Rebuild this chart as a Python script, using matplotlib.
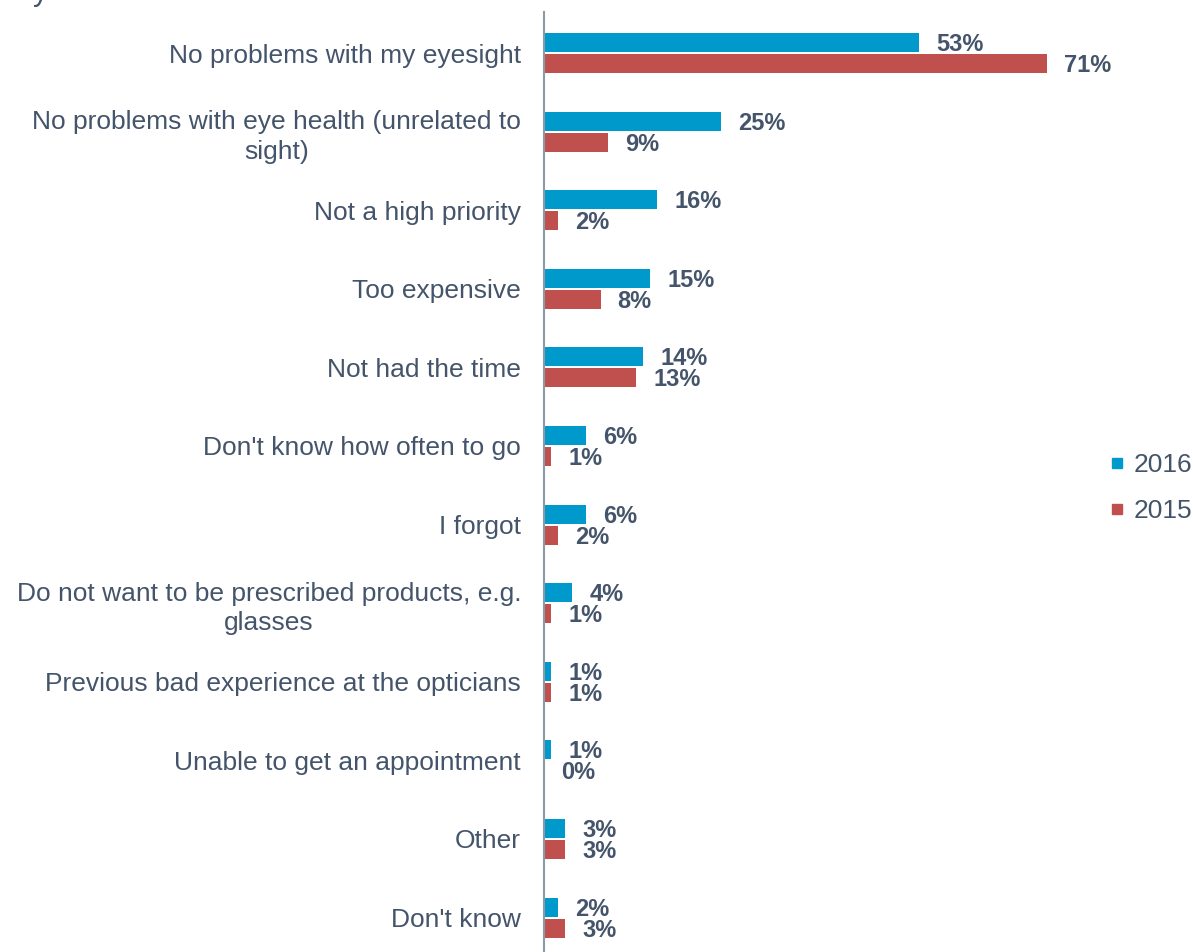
import matplotlib
matplotlib.use("Agg")
import matplotlib.pyplot as plt
from matplotlib.lines import Line2D
import numpy as np

plt.rcParams['font.family'] = ['Liberation Sans', 'DejaVu Sans']

categories = [
    "No problems with my eyesight",
    "No problems with eye health (unrelated to\nsight)",
    "Not a high priority",
    "Too expensive",
    "Not had the time",
    "Don't know how often to go",
    "I forgot",
    "Do not want to be prescribed products, e.g.\nglasses",
    "Previous bad experience at the opticians",
    "Unable to get an appointment",
    "Other",
    "Don't know",
]
values_2016 = [53, 25, 16, 15, 14, 6, 6, 4, 1, 1, 3, 2]
values_2015 = [71, 9, 2, 8, 13, 1, 2, 1, 1, 0, 3, 3]
series_names = ["2016", "2015"]

TEXT = "#44546A"
BLUE = "#0099CC"
RED = "#C0504D"

W, H = 1193, 952
fig = plt.figure(figsize=(W / 100, H / 100), dpi=100)
ax_left, ax_right = 544, 1090
ax_top, ax_bottom = 12, 952
ax = fig.add_axes([ax_left / W, 1 - ax_bottom / H, (ax_right - ax_left) / W, (ax_bottom - ax_top) / H])

px_per_pct = 7.08
row_px = 78.6
first_row_px = 53
ax.set_xlim(0, (ax_right - ax_left) / px_per_pct)
ax.set_ylim((ax_bottom - first_row_px) / row_px, (ax_top - first_row_px) / row_px)

y = np.arange(len(categories))
bh = 19 / row_px
off = 10.5 / row_px
ax.barh(y - off, values_2016, height=bh, color=BLUE, label=series_names[0])
ax.barh(y + off, values_2015, height=bh, color=RED, label=series_names[1])

pad = 17 / px_per_pct
nudge = 2 / row_px
for yi, v in zip(y, values_2016):
    ax.text(v + pad, yi - off + nudge, f"{v}%", ha='left', va='center', fontsize=17,
            fontweight='bold', color=TEXT)
for yi, v in zip(y, values_2015):
    ax.text(v + pad, yi + off + nudge, f"{v}%", ha='left', va='center', fontsize=17,
            fontweight='bold', color=TEXT)

ax.set_yticks(y)
ax.set_yticklabels(categories, fontsize=19, color=TEXT, linespacing=1.3)
for t in ax.get_yticklabels():
    t.set_multialignment('center')
ax.tick_params(axis='y', length=0, pad=16.5)
ax.set_xticks([])
for s in ['top', 'right', 'bottom']:
    ax.spines[s].set_visible(False)
ax.spines['left'].set_color('#8C9AA8')
ax.spines['left'].set_linewidth(1.5)

handles = [Line2D([], [], marker='s', linestyle='none', color=BLUE, markersize=6.5),
           Line2D([], [], marker='s', linestyle='none', color=RED, markersize=6.5)]
leg = fig.legend(handles, series_names, loc='center left',
                 bbox_to_anchor=(1097 / W, 1 - 488 / H), frameon=False,
                 fontsize=19, labelcolor=TEXT, handlelength=0.55,
                 handletextpad=0.35, labelspacing=0.85, borderpad=0)

# descender of the heading above the frame
fig.text(33 / W, 1.0, "y", ha='left', va='baseline', fontsize=22, color=TEXT)

fig.savefig("out.png", dpi=100)
